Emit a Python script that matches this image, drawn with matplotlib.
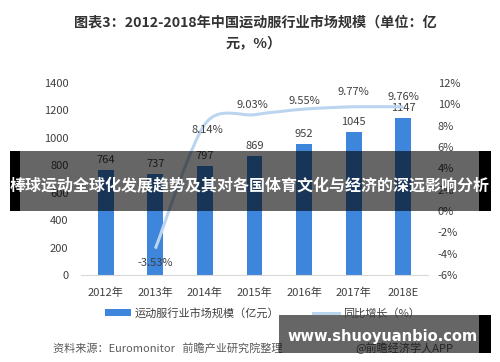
import numpy as np
import matplotlib
matplotlib.use("Agg")
import matplotlib.pyplot as plt
from matplotlib.path import Path
from matplotlib.patches import PathPatch, Rectangle, Patch
from matplotlib.lines import Line2D

plt.rcParams['font.family'] = ['Noto Sans CJK SC', 'DejaVu Sans']

# data
years = ['2012年', '2013年', '2014年', '2015年', '2016年', '2017年', '2018E']
market = [764, 737, 797, 869, 952, 1045, 1147]            # 亿元
growth = [None, -3.53, 8.14, 9.03, 9.55, 9.77, 9.76]       # %
# label offsets (pixels) for the growth labels
g_off = [None, (0, -14), (2, -6), (-2, 10), (0, 8), (0, 15), (0, 10)]

W, H = 500, 362
fig = plt.figure(figsize=(W / 100, H / 100), dpi=100)

def fx(x):
    return x / W

def fy(y):
    return 1 - y / H

txt = '#404040'
bar_c = '#3e85dc'
line_c = '#bcd5ef'

ax = fig.add_axes([fx(81), fy(275), fx(428) - fx(81), fy(83) - fy(275)])
ax2 = ax.twinx()

x = np.arange(len(years))
ax.bar(x, market, width=0.32, color=bar_c, zorder=2)
for xi, v in zip(x, market):
    ax.annotate(str(v), (xi, v), xytext=(0, 5), textcoords='offset pixels',
                ha='center', va='bottom', fontsize=8, color=txt)

ax.set_xlim(-0.5, len(years) - 0.5)
ax.set_ylim(0, 1400)
ax.set_yticks(range(0, 1401, 200))
ax.set_xticks(x)
ax.set_xticklabels(years)
ax.tick_params(axis='both', length=0, labelsize=8, colors=txt)
ax.tick_params(axis='y', pad=9)
ax.tick_params(axis='x', pad=9)
for s in ['top', 'left', 'right']:
    ax.spines[s].set_visible(False)
ax.spines['bottom'].set_color('#d9d9d9')

# smooth growth curve (catmull-rom style bezier through the points)
gx = [xi for xi, g in zip(x, growth) if g is not None]
gy = [g for g in growth if g is not None]
pts = np.column_stack([gx, gy]).astype(float)
verts = [tuple(pts[0])]
codes = [Path.MOVETO]
n = len(pts)
for i in range(n - 1):
    p0 = pts[max(i - 1, 0)]
    p1 = pts[i]
    p2 = pts[i + 1]
    p3 = pts[min(i + 2, n - 1)]
    c1 = p1 + (p2 - p0) / 7
    c2 = p2 - (p3 - p1) / 7
    verts += [tuple(c1), tuple(c2), tuple(p2)]
    codes += [Path.CURVE4] * 3
ax2.add_patch(PathPatch(Path(verts, codes), facecolor='none', edgecolor=line_c,
                        lw=2.2, zorder=3))
for xi, g, off in zip(x, growth, g_off):
    if g is None:
        continue
    ax2.annotate(f'{g:.2f}%', (xi, g), xytext=off, textcoords='offset pixels',
                 ha='center', va='center', fontsize=8, color=txt)

ax2.set_ylim(-6, 12)
ax2.set_yticks(range(-6, 13, 2))
ax2.set_yticklabels([f'{v}%' for v in range(-6, 13, 2)])
ax2.tick_params(axis='y', length=0, labelsize=8, colors=txt, pad=7)
for s in ['top', 'left', 'right', 'bottom']:
    ax2.spines[s].set_visible(False)

# title
fig.text(fx(255), fy(23), '图表3：2012-2018年中国运动服行业市场规模（单位：亿',
         ha='center', va='center', fontsize=10.2, fontweight='bold', color='#333333')
fig.text(fx(254), fy(44), '元，%）', ha='center', va='center',
         fontsize=10.2, fontweight='bold', color='#333333')

# legend
handles = [Patch(facecolor=bar_c, edgecolor='none'),
           Line2D([], [], color=line_c, lw=2.2)]
fig.legend(handles, ['运动服行业市场规模（亿元）', '同比增长（%）'],
           loc='center', bbox_to_anchor=(fx(262), fy(313)), ncol=2, frameon=False,
           fontsize=8, handlelength=2.4, handletextpad=0.3, columnspacing=3.0,
           labelcolor=txt)

# source line
fig.text(fx(53), fy(348), '资料来源：Euromonitor   前瞻产业研究院整理', ha='left',
         va='center', fontsize=8, color='#595959', style='italic')
fig.text(fx(355), fy(348), '@前瞻经济学人APP', ha='left', va='center',
         fontsize=8, color='#595959')

# overlay banners
fig.add_artist(Rectangle((fx(10), fy(211)), fx(10), fy(151) - fy(211),
                         transform=fig.transFigure, facecolor='black',
                         edgecolor='none', zorder=5))
fig.add_artist(Rectangle((fx(20), fy(211)), fx(459), fy(151) - fy(211),
                         transform=fig.transFigure, facecolor='black', alpha=0.6,
                         edgecolor='none', zorder=5))
fig.add_artist(Rectangle((fx(479), fy(211)), fx(12), fy(151) - fy(211),
                         transform=fig.transFigure, facecolor='black',
                         edgecolor='none', zorder=5))
fig.text(fx(250), fy(185), '棒球运动全球化发展趋势及其对各国体育文化与经济的深远影响分析',
         ha='center', va='center', fontsize=11.5, fontweight='bold', color='white',
         zorder=6)

fig.add_artist(Rectangle((fx(279), fy(353)), fx(200), fy(315) - fy(353),
                         transform=fig.transFigure, facecolor='black', alpha=0.6,
                         edgecolor='none', zorder=5))
fig.add_artist(Rectangle((fx(479), fy(353)), fx(12), fy(315) - fy(353),
                         transform=fig.transFigure, facecolor='black',
                         edgecolor='none', zorder=5))
fig.text(fx(383), fy(337), 'www.shuoyuanbio.com', ha='center', va='center',
         fontsize=10.5, fontweight='bold', color='white', family='DejaVu Sans', zorder=6)

fig.savefig('out.png', dpi=100)
